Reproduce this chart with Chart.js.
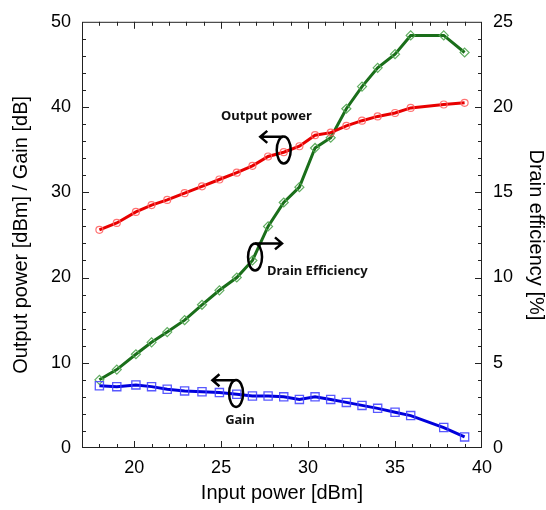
<!DOCTYPE html>
<html>
<head>
<meta charset="utf-8">
<script src="https://cdn.jsdelivr.net/npm/chart.js@4.4.0/dist/chart.umd.min.js"></script>
<style>
  html, body { margin: 0; padding: 0; background: #fff; }
  #wrap { width: 546px; height: 510px; }
</style>
</head>
<body>
<div id="wrap"><canvas id="chartCanvas" width="546" height="510"></canvas></div>
<script>
const inputPower = [18, 19, 20.1, 21, 21.9, 22.9, 23.9, 24.9, 25.9, 26.8, 27.7,
  28.6, 29.5, 30.4, 31.3, 32.2, 33.1, 34.0, 35.0, 35.9, 37.8, 39.0];
const outputPower = [25.6, 26.4, 27.7, 28.5, 29.1, 29.9, 30.7, 31.5, 32.3, 33.1, 34.2,
  34.7, 35.4, 36.7, 37.0, 37.8, 38.4, 38.9, 39.3, 39.9, 40.3, 40.5];
const gain = [7.3, 7.2, 7.4, 7.2, 6.9, 6.7, 6.6, 6.5, 6.3, 6.1, 6.1,
  6.0, 5.7, 6.0, 5.7, 5.35, 5.0, 4.65, 4.2, 3.8, 2.4, 1.3];
const drainEfficiency = [4.0, 4.6, 5.5, 6.2, 6.8, 7.5, 8.4, 9.25, 10.0, 11.0, 13.0,
  14.4, 15.3, 17.6, 18.2, 19.9, 21.2, 22.3, 23.1, 24.2, 24.2, 23.2];

// tick labels
const xTicks = [20, 25, 30, 35, 40];
const leftTicks = [0, 10, 20, 30, 40, 50];
const rightTicks = [0, 5, 10, 15, 20, 25];

// callout labels, placed in data units (x, left axis)
const callouts = [
  { text: 'Output power', tx: 27.6, ty: 38.9, align: 'center', ex: 28.6, ey: 34.95, ax: 28.55, ay: 36.5, tipX: 27.25, dir: -1 },
  { text: 'Drain Efficiency', tx: 27.64, ty: 20.7, align: 'left', ex: 26.95, ey: 22.4, ax: 26.95, ay: 24.0, tipX: 28.5, dir: 1 },
  { text: 'Gain', tx: 26.08, ty: 3.3, align: 'center', ex: 25.86, ey: 6.4, ax: 25.8, ay: 7.95, tipX: 24.5, dir: -1 }
];

const toPoints = (ys) => inputPower.map((x, i) => ({ x: x, y: ys[i] }));

const fontFamily = "'Liberation Sans', Arial, sans-serif";

// frame, inward ticks and callouts
const framePlugin = {
  id: 'frame',
  afterDraw(chart) {
    const { ctx, chartArea: a, scales } = chart;
    const xs = scales.x, yl = scales.y, yr = scales.y1;
    ctx.save();
    ctx.strokeStyle = '#222';
    ctx.lineWidth = 1;
    ctx.strokeRect(a.left + 0.5, a.top + 0.5, a.right - a.left - 1, a.bottom - a.top - 1);

    ctx.beginPath();
    for (let v = 18; v < 40; v++) {
      const px = Math.round(xs.getPixelForValue(v)) + 0.5;
      const len = v % 5 === 0 ? 7 : 4;
      ctx.moveTo(px, a.bottom); ctx.lineTo(px, a.bottom - len);
      ctx.moveTo(px, a.top); ctx.lineTo(px, a.top + len);
    }
    for (let v = 2; v < 50; v += 2) {
      const py = Math.round(yl.getPixelForValue(v)) + 0.5;
      const len = v % 10 === 0 ? 7 : 4;
      ctx.moveTo(a.left, py); ctx.lineTo(a.left + len, py);
    }
    for (let v = 1; v < 25; v++) {
      const py = Math.round(yr.getPixelForValue(v)) + 0.5;
      const len = v % 5 === 0 ? 7 : 4;
      ctx.moveTo(a.right, py); ctx.lineTo(a.right - len, py);
    }
    ctx.stroke();

    ctx.fillStyle = '#111';
    ctx.strokeStyle = '#000';
    ctx.lineWidth = 2.5;
    ctx.font = "bold 13px 'Noto Sans', sans-serif";
    ctx.textBaseline = 'middle';
    callouts.forEach(c => {
      ctx.textAlign = c.align;
      ctx.fillText(c.text, xs.getPixelForValue(c.tx), yl.getPixelForValue(c.ty));
      const ex = xs.getPixelForValue(c.ex), ey = yl.getPixelForValue(c.ey);
      ctx.beginPath();
      ctx.ellipse(ex, ey, 7, 13.5, 0, 0, Math.PI * 2);
      ctx.stroke();
      const ax = xs.getPixelForValue(c.ax), ay = yl.getPixelForValue(c.ay);
      const tx = xs.getPixelForValue(c.tipX);
      ctx.beginPath();
      ctx.moveTo(ax, ay); ctx.lineTo(tx, ay);
      ctx.moveTo(tx - c.dir * 7, ay - 6); ctx.lineTo(tx, ay); ctx.lineTo(tx - c.dir * 7, ay + 6);
      ctx.stroke();
    });
    ctx.restore();
  }
};

new Chart(document.getElementById('chartCanvas'), {
  type: 'line',
  data: {
    datasets: [
      {
        label: 'Output power',
        data: toPoints(outputPower),
        yAxisID: 'y',
        borderColor: '#e80000',
        borderWidth: 3,
        pointStyle: 'circle',
        pointRadius: 3.5,
        pointBorderWidth: 1.2,
        pointBorderColor: 'rgba(255,100,100,0.9)',
        pointBackgroundColor: 'rgba(0,0,0,0)'
      },
      {
        label: 'Gain',
        data: toPoints(gain),
        yAxisID: 'y',
        borderColor: '#0000dc',
        borderWidth: 3,
        pointStyle: 'rect',
        pointRadius: 5.8,
        pointBorderWidth: 1.3,
        pointBorderColor: 'rgba(70,70,255,0.9)',
        pointBackgroundColor: 'rgba(0,0,0,0)'
      },
      {
        label: 'Drain efficiency',
        data: toPoints(drainEfficiency),
        yAxisID: 'y1',
        borderColor: '#1a6e1a',
        borderWidth: 3,
        pointStyle: 'rectRot',
        pointRadius: 4.5,
        pointBorderWidth: 1.2,
        pointBorderColor: 'rgba(80,165,80,0.9)',
        pointBackgroundColor: 'rgba(0,0,0,0)'
      }
    ]
  },
  options: {
    responsive: false,
    animation: false,
    devicePixelRatio: 1,
    layout: { padding: { top: 21, left: 0, right: 0, bottom: 0 } },
    plugins: {
      legend: { display: false },
      tooltip: { enabled: false }
    },
    elements: { line: { tension: 0 } },
    scales: {
      x: {
        type: 'linear',
        min: 17,
        max: 40,
        afterBuildTicks: (s) => { s.ticks = xTicks.map(v => ({ value: v })); },
        afterFit: (s) => { s.height = 62; },
        grid: { display: false, drawTicks: false },
        border: { display: false },
        ticks: { color: '#000', padding: 9, font: { family: fontFamily, size: 18 } },
        title: {
          display: true,
          text: 'Input power [dBm]',
          color: '#000',
          padding: { top: 0, bottom: 5 },
          font: { family: fontFamily, size: 20 }
        }
      },
      y: {
        type: 'linear',
        position: 'left',
        min: 0,
        max: 50,
        afterBuildTicks: (s) => { s.ticks = leftTicks.map(v => ({ value: v })); },
        afterFit: (s) => { s.width = 82; },
        grid: { display: false, drawTicks: false },
        border: { display: false },
        ticks: { color: '#000', padding: 11, font: { family: fontFamily, size: 18 } },
        title: {
          display: true,
          text: 'Output power [dBm] / Gain [dB]',
          color: '#000',
          padding: { top: 9, bottom: 0 },
          font: { family: fontFamily, size: 20 }
        }
      },
      y1: {
        type: 'linear',
        position: 'right',
        min: 0,
        max: 25,
        afterBuildTicks: (s) => { s.ticks = rightTicks.map(v => ({ value: v })); },
        afterFit: (s) => { s.width = 64; },
        grid: { display: false, drawTicks: false },
        border: { display: false },
        ticks: { color: '#000', padding: 11, font: { family: fontFamily, size: 18 } },
        title: {
          display: true,
          text: 'Drain efficiency [%]',
          color: '#000',
          padding: { top: -2, bottom: 0 },
          font: { family: fontFamily, size: 20 }
        }
      }
    }
  },
  plugins: [framePlugin]
});
</script>
</body>
</html>
